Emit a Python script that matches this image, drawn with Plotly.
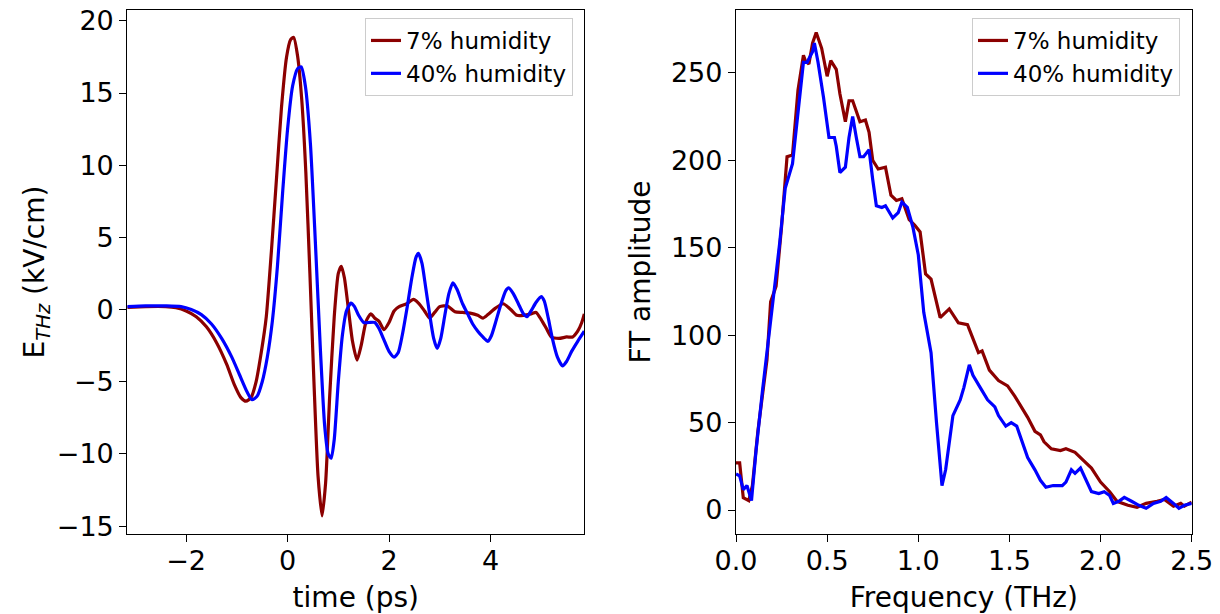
import plotly.graph_objects as go
from plotly.subplots import make_subplots

# ---------------- time domain (left) ----------------
t_low = [-3.16, -2.8, -2.4, -2.2, -2.0, -1.8, -1.6, -1.4, -1.2, -1.05, -0.92, -0.82, -0.72,
         -0.62, -0.52, -0.42, -0.32, -0.22, -0.12, -0.02, 0.06, 0.12, 0.2, 0.28, 0.36, 0.44,
         0.52, 0.6, 0.68, 0.75, 0.83, 0.92, 1.0, 1.06, 1.12, 1.2, 1.28, 1.37, 1.45, 1.55,
         1.64, 1.72, 1.8, 1.9, 2.0, 2.1, 2.2, 2.35, 2.48, 2.58, 2.7, 2.8, 2.9, 3.0, 3.15,
         3.3, 3.45, 3.6, 3.75, 3.85, 3.95, 4.1, 4.25, 4.4, 4.52, 4.65, 4.8, 4.9, 5.0, 5.1,
         5.2, 5.35, 5.5, 5.62, 5.72, 5.8, 5.85]
e_low = [0.15, 0.2, 0.2, 0.12, -0.1, -0.5, -1.2, -2.3, -3.8, -5.2, -6.1, -6.35, -6.1,
         -5.0, -3.0, -0.5, 4.0, 9.0, 14.0, 17.5, 18.7, 18.85, 17.5, 14.5, 9.5, 2.5,
         -5.0, -11.5, -14.3, -12.0, -6.0, -0.5, 2.5, 3.0, 2.2, 0.0, -2.2, -3.5, -2.5, -0.8,
         -0.3, -0.6, -0.8, -1.4, -0.9, -0.1, 0.2, 0.4, 0.7, 0.45, -0.1, -0.6, -0.2, 0.2, 0.25,
         -0.15, -0.2, -0.25, -0.4, -0.6, -0.35, 0.1, 0.4, 0.0, -0.4, -0.4, -0.3, -0.2, -0.7, -1.3,
         -1.9, -2.0, -1.9, -1.9, -1.5, -0.9, -0.3]

t_high = [-3.16, -2.8, -2.4, -2.1, -1.9, -1.7, -1.5, -1.3, -1.1, -0.95, -0.8, -0.7, -0.6,
          -0.5, -0.4, -0.3, -0.2, -0.1, 0.0, 0.1, 0.2, 0.27, 0.35, 0.45, 0.55, 0.65, 0.73,
          0.8, 0.86, 0.92, 1.0, 1.08, 1.16, 1.25, 1.32, 1.4, 1.5, 1.6, 1.72, 1.8, 1.9, 2.0,
          2.1, 2.18, 2.26, 2.35, 2.45, 2.53, 2.58, 2.65, 2.72, 2.8, 2.88, 2.95, 3.02, 3.1,
          3.18, 3.26, 3.34, 3.45, 3.55, 3.65, 3.75, 3.85, 3.95, 4.02, 4.1, 4.2, 4.3, 4.36,
          4.45, 4.55, 4.65, 4.72, 4.8, 4.9, 5.0, 5.06, 5.14, 5.22, 5.32, 5.42, 5.5, 5.6,
          5.72, 5.85]
e_high = [0.2, 0.25, 0.25, 0.2, 0.0, -0.35, -1.0, -2.0, -3.3, -4.5, -5.7, -6.25, -6.0,
          -5.0, -3.3, -0.8, 3.0, 8.0, 12.5, 15.5, 16.7, 16.8, 15.5, 11.5, 4.5, -3.0, -8.0,
          -10.0, -10.3, -9.0, -5.0, -1.8, -0.1, 0.45, 0.2, -0.4, -0.9, -0.9, -0.9, -1.3, -2.1, -2.9,
          -3.3, -3.0, -1.8, 0.0, 2.2, 3.6, 3.9, 3.2, 1.6, -0.3, -2.0, -2.7, -2.0, -0.4,
          1.1, 1.85, 1.4, 0.4, -0.3, -1.0, -1.5, -1.9, -2.2, -1.8, -0.9, 0.3, 1.3, 1.5,
          1.1, 0.4, -0.3, -0.5, -0.1, 0.5, 0.9, 0.6, -0.6, -2.0, -3.3, -3.9, -3.6, -2.9,
          -2.2, -1.5]

# ---------------- frequency domain (right) ----------------
f_low = [0.0, 0.02, 0.04, 0.07, 0.09, 0.12, 0.17, 0.19, 0.22, 0.25, 0.28, 0.31, 0.34, 0.37,
         0.38, 0.4, 0.42, 0.44, 0.47, 0.5, 0.52, 0.55, 0.57, 0.6, 0.62, 0.64, 0.68, 0.71,
         0.73, 0.75, 0.78, 0.82, 0.85, 0.88, 0.91, 0.95, 0.98, 1.01, 1.04, 1.07, 1.12, 1.17,
         1.22, 1.27, 1.33, 1.35, 1.39, 1.44, 1.49, 1.53, 1.6, 1.64, 1.67, 1.69, 1.73, 1.78,
         1.81, 1.86, 1.91, 1.95, 2.0, 2.05, 2.09, 2.15, 2.2, 2.25, 2.31, 2.35, 2.4, 2.44,
         2.46, 2.5]
a_low = [27, 27, 7, 5.4, 14, 45, 86, 119, 128, 162, 202, 203, 240, 260,
         257, 255, 267, 273, 264, 248, 257, 252, 238, 222, 234, 234, 222, 223,
         216, 200, 195, 196, 180, 177, 178, 166, 163, 159, 135, 132, 110, 115,
         107, 106, 90, 91, 80, 74, 71, 65, 53, 45, 43, 39, 35, 34,
         35, 33, 28, 24, 16, 10.5, 5, 2.7, 1.6, 3.8, 5, 6, 2.2, 3.8,
         2.2, 4.5]

f_high = [0.0, 0.02, 0.04, 0.06, 0.085, 0.11, 0.145, 0.18, 0.21, 0.24, 0.27, 0.31, 0.33,
          0.36, 0.37, 0.39, 0.42, 0.43, 0.45, 0.48, 0.51, 0.54, 0.55, 0.57, 0.6, 0.62, 0.64,
          0.66, 0.68, 0.7, 0.73, 0.75, 0.77, 0.8, 0.82, 0.86, 0.89, 0.91, 0.94, 0.97, 1.0,
          1.03, 1.07, 1.1, 1.13, 1.15, 1.19, 1.23, 1.25, 1.28, 1.3, 1.34, 1.38, 1.42, 1.44,
          1.48, 1.51, 1.54, 1.57, 1.6, 1.64, 1.67, 1.7, 1.74, 1.79, 1.81, 1.84, 1.86, 1.89,
          1.92, 1.95, 1.99, 2.02, 2.05, 2.07, 2.1, 2.13, 2.17, 2.21, 2.25, 2.29, 2.33, 2.36,
          2.4, 2.43, 2.46, 2.5]
a_high = [20.6, 19.5, 11.7, 14, 5.4, 34, 68, 101, 126, 153, 184, 198, 218,
          247, 256, 256, 262, 267, 256, 236, 213, 213, 208, 193, 196, 213, 225,
          213, 202, 202, 206, 189, 174, 173, 174, 167, 170, 176, 173, 162, 146,
          113, 90, 50, 14, 23, 54, 63, 70, 83, 77, 70, 63, 59, 54,
          48, 50, 48, 39, 30, 23, 17, 13, 14, 14, 16, 23, 21, 24,
          17, 10.5, 9.4, 10.5, 8.3, 3.8, 5, 7.2, 5, 2.7, 1, 3.8, 5, 7.2,
          3.8, 1, 2.7, 3.8]

series_names = ["7% humidity", "40% humidity"]
RED = "#8B0000"
BLUE = "#0000FF"
FONT = "DejaVu Sans"

W, H = 1220, 614

fig = make_subplots(rows=1, cols=2)

fig.add_trace(go.Scatter(x=t_low, y=e_low, mode="lines", name=series_names[0],
                         line=dict(color=RED, width=3.2, shape="spline", smoothing=0.6),
                         legend="legend"), row=1, col=1)
fig.add_trace(go.Scatter(x=t_high, y=e_high, mode="lines", name=series_names[1],
                         line=dict(color=BLUE, width=3.2, shape="spline", smoothing=0.6),
                         legend="legend"), row=1, col=1)
fig.add_hline(y=0, line=dict(color="#9a9a9a", width=2), row=1, col=2, layer="below")
fig.add_trace(go.Scatter(x=f_low, y=a_low, mode="lines", name=series_names[0],
                         line=dict(color=RED, width=3.2), legend="legend2"), row=1, col=2)
fig.add_trace(go.Scatter(x=f_high, y=a_high, mode="lines", name=series_names[1],
                         line=dict(color=BLUE, width=3.2), legend="legend2"), row=1, col=2)

axis_common = dict(showline=True, linecolor="black", linewidth=1.3, mirror=True,
                   ticks="outside", ticklen=7, tickwidth=1.3, tickcolor="black",
                   showgrid=False, zeroline=False, automargin=False,
                   ticklabeloverflow="allow",
                   tickfont=dict(family=FONT, size=27, color="black"),
                   title_font=dict(family=FONT, size=28, color="black"))

fig.update_xaxes(**axis_common)
fig.update_yaxes(**axis_common)
fig.update_xaxes(ticklabelstandoff=-5)

ydom = [1 - 534 / H, 1 - 10 / H]

fig.update_layout(
    width=W, height=H,
    margin=dict(l=0, r=0, t=0, b=0, autoexpand=False),
    paper_bgcolor="white", plot_bgcolor="white",
    font=dict(family=FONT, color="black"),
    xaxis=dict(domain=[127.3 / W, 584.3 / W], range=[-3.16, 5.85], tickvals=[-2, 0, 2, 4],
               title=dict(text="time (ps)", standoff=15)),
    yaxis=dict(domain=ydom, range=[-15.55, 20.75],
               tickvals=[-15, -10, -5, 0, 5, 10, 15, 20],
               title=dict(text="E<sub><i>THz</i></sub> (kV/cm)", standoff=3)),
    xaxis2=dict(domain=[736 / W, 1191.7 / W], range=[0, 2.5],
                tickvals=[0, 0.5, 1.0, 1.5, 2.0, 2.5], tickformat=".1f",
                title=dict(text="Frequency (THz)", standoff=15)),
    yaxis2=dict(domain=ydom, range=[-13.7, 285.9],
                tickvals=[0, 50, 100, 150, 200, 250],
                title=dict(text="FT amplitude", standoff=12)),
    legend=dict(x=573 / W, xanchor="right", y=1 - 18 / H, yanchor="top",
                bgcolor="rgba(255,255,255,0.8)", bordercolor="#cccccc", borderwidth=1,
                font=dict(family=FONT, size=23, color="black"),
                tracegroupgap=0),
    legend2=dict(x=1180 / W, xanchor="right", y=1 - 18 / H, yanchor="top",
                 bgcolor="rgba(255,255,255,0.8)", bordercolor="#cccccc", borderwidth=1,
                 font=dict(family=FONT, size=23, color="black"),
                 tracegroupgap=0),
)

fig.write_html("out.html", config={"displayModeBar": False},
               post_script="document.body.style.margin='0';")
